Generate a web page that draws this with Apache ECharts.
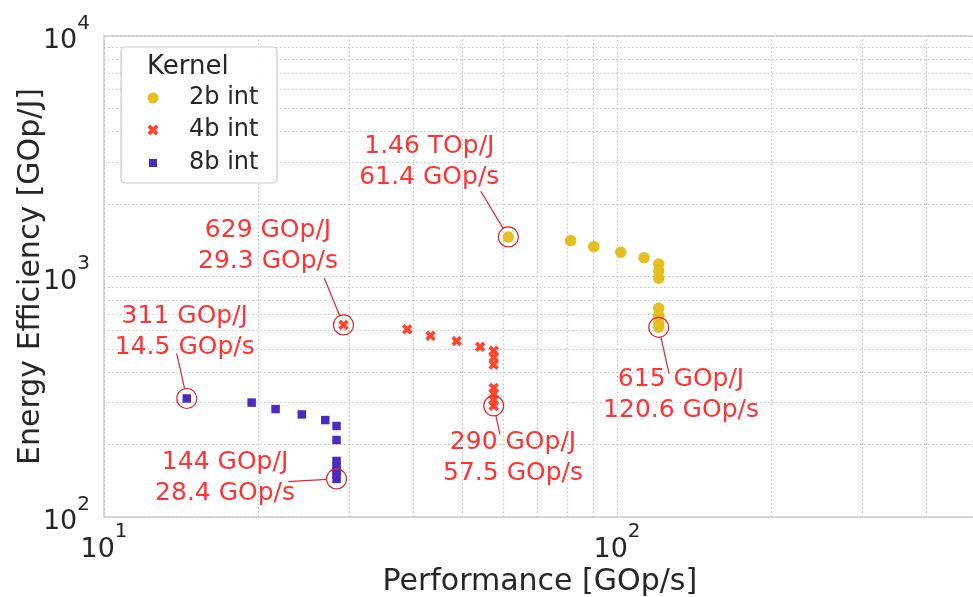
<!DOCTYPE html>
<html>
<head>
<meta charset="utf-8">
<script src="https://cdn.jsdelivr.net/npm/echarts@6/dist/echarts.min.js"></script>
<style>
  html, body { margin: 0; padding: 0; background: #ffffff; }
  #chart { width: 973px; height: 597px; }
</style>
</head>
<body>
<div id="chart"></div>
<script>
// Kernel sweeps: performance [GOp/s] vs energy efficiency [GOp/J]
const perf2b = [61.4, 81.2, 90.1, 101.7, 112.9, 120.6, 120.6, 120.6, 120.6, 120.6, 120.6, 120.6];
const eff2b  = [1460, 1410, 1331, 1261, 1197, 1127, 1057, 983, 738, 688, 641, 615];
const perf4b = [29.3, 39.0, 43.3, 48.7, 54.1, 57.5, 57.5, 57.5, 57.5, 57.5, 57.5, 57.5];
const eff4b  = [629, 603, 567, 539, 510, 491, 461, 430, 344, 325, 307, 290];
const perf8b = [14.5, 19.4, 21.6, 24.3, 27.0, 28.4, 28.4, 28.4, 28.4, 28.4, 28.4, 28.4];
const eff8b  = [311, 299, 281, 267, 253, 239, 209, 171, 163, 155, 150, 144];

// Highlighted operating points
const notePerf = [61.4, 29.3, 14.5, 28.4, 57.5, 120.6];
const noteEff  = [1460, 629, 311, 144, 290, 615];

// Minor grid positions (log axes)
const xMinor = [20, 30, 40, 50, 60, 70, 80, 90, 200, 300, 400];
const yMinor = [200, 300, 400, 500, 600, 700, 800, 900, 2000, 3000, 4000, 5000, 6000, 7000, 8000, 9000];

const kernelNames = ['2b int', '4b int', '8b int'];

// Callout layout relative to each highlighted point (pixels):
// centre of the two-line label, and where its leader line starts
const noteLabelOffsets = [[-79, -75], [-75.5, -79], [-2, -66.5], [-111.5, -1], [19.3, 52.5], [22.3, 68]];
const noteLeaderStarts = [[-27.6, -45.7], [-19.2, -46.7], [-10.1, -45.2], [-48.2, 2.7], [6.3, 28.5], [10.3, 46.4]];

const FONT = 'DejaVu Sans';
const INK = '#262626';
const GRID = '#c4c4c4';
const NOTE_TEXT = '#ff3333';
const NOTE_LINE = '#e3262b';
const COLORS = ['#e5be1f', '#ff4530', '#4b2bc2'];
const X_PATH = 'path://M2,-4L4,-2L2,0L4,2L2,4L0,2L-2,4L-4,2L-2,0L-4,-2L-2,-4L0,-2Z';
const SQ_PATH = 'path://M0,0H1V1H0Z';

const zip = (a, b) => a.map((v, i) => [v, b[i]]);

// "10" with a raised exponent, only on whole decades
function powLabel(v) {
  const l = Math.log10(v);
  const e = Math.round(l);
  if (Math.abs(l - e) > 1e-6) return '';
  return '{b|10}{s|' + e + '}';
}
const powRich = {
  b: { fontFamily: FONT, fontSize: 27, color: INK, lineHeight: 27, verticalAlign: 'top', padding: [14, 0, 0, 0] },
  s: { fontFamily: FONT, fontSize: 20, color: INK, lineHeight: 20, verticalAlign: 'top' }
};

function noteText(perf, eff) {
  const e = eff >= 1000 ? (eff / 1000).toFixed(2) + ' TOp/J' : eff + ' GOp/J';
  return e + '\n' + perf.toFixed(1) + ' GOp/s';
}

const dottedGrid = { color: GRID, width: 1.2, type: [1.5, 2.5] };

const chart = echarts.init(document.getElementById('chart'), null, { renderer: 'canvas' });

const legendBase = {
  orient: 'vertical', padding: 0, selectedMode: false, symbolKeepAspect: true
};
function legendFor(i, icon, size, centerY) {
  return Object.assign({}, legendBase, {
    data: [kernelNames[i]], icon: icon,
    itemWidth: size, itemHeight: size,
    left: 153 - size / 2, top: centerY - 12,
    textStyle: { fontFamily: FONT, fontSize: 24, color: INK, lineHeight: 24, padding: [0, 0, 0, 31 - size / 2] }
  });
}

const option = {
  animation: false,
  backgroundColor: '#ffffff',
  textStyle: { fontFamily: FONT },
  grid: {
    left: 104, top: 36, width: 871.6, height: 481,
    outerBoundsMode: 'none', containLabel: false,
    show: true, borderColor: '#d0d0d0', borderWidth: 1.5, backgroundColor: 'transparent'
  },
  xAxis: {
    type: 'log', logBase: 10, min: 10, max: 500,
    name: 'Performance [GOp/s]', nameLocation: 'middle', nameGap: 50, nameMoveOverlap: false,
    nameTextStyle: { fontFamily: FONT, fontSize: 30, color: INK },
    axisLine: { show: false }, axisTick: { show: false },
    axisLabel: { formatter: powLabel, rich: powRich, margin: 5, showMaxLabel: false, showMinLabel: true },
    splitLine: { show: true, lineStyle: dottedGrid }
  },
  yAxis: {
    type: 'log', logBase: 10, min: 100, max: 10000,
    name: 'Energy Efficiency [GOp/J]', nameLocation: 'middle', nameGap: 58, nameRotate: 90, nameMoveOverlap: false,
    nameTextStyle: { fontFamily: FONT, fontSize: 30, color: INK },
    axisLine: { show: false }, axisTick: { show: false },
    axisLabel: { formatter: powLabel, rich: powRich, margin: 14, padding: [0, 0, 18, 0] },
    splitLine: { show: true, lineStyle: dottedGrid }
  },
  legend: [
    legendFor(0, 'circle', 11, 98),
    legendFor(1, X_PATH, 11, 130),
    legendFor(2, SQ_PATH, 8, 163)
  ],
  graphic: [
    {
      type: 'rect', z: 3, silent: true,
      shape: { x: 121, y: 47, width: 156, height: 136, r: 4 },
      style: { fill: 'rgba(255,255,255,0.85)', stroke: '#cccccc', lineWidth: 1.2 }
    },
    {
      type: 'text', z: 5, silent: true, x: 147, y: 67,
      style: { text: 'Kernel', font: '26px "DejaVu Sans"', fill: INK, verticalAlign: 'middle' }
    }
  ],
  series: [
    {
      // minor grid lines for the log axes
      type: 'scatter', name: 'grid', data: [], z: 0, silent: true,
      markLine: {
        silent: true, symbol: ['none', 'none'], label: { show: false }, z: 0,
        lineStyle: dottedGrid, animation: false,
        data: xMinor.map(v => ({ xAxis: v })).concat(yMinor.map(v => ({ yAxis: v })))
      }
    },
    {
      type: 'scatter', name: kernelNames[0], z: 3,
      data: zip(perf2b, eff2b), symbol: 'circle', symbolSize: 11.5,
      itemStyle: { color: COLORS[0], opacity: 1 }
    },
    {
      type: 'scatter', name: kernelNames[1], z: 3,
      data: zip(perf4b, eff4b), symbol: X_PATH, symbolSize: 10.5,
      itemStyle: { color: COLORS[1], opacity: 1 }
    },
    {
      type: 'scatter', name: kernelNames[2], z: 3,
      data: zip(perf8b, eff8b), symbol: 'rect', symbolSize: 8.5,
      itemStyle: { color: COLORS[2], opacity: 1 }
    },
    {
      // callouts: ring around the point, leader line and two-line label
      type: 'custom', name: 'highlight', z: 6, silent: true,
      data: zip(notePerf, noteEff),
      renderItem: (params, api) => {
        const perf = api.value(0), eff = api.value(1);
        const p = api.coord([perf, eff]);
        const i = params.dataIndex;
        const lo = noteLabelOffsets[i], ls = noteLeaderStarts[i];
        const r = 10;
        const sx = p[0] + ls[0], sy = p[1] + ls[1];
        const dx = p[0] - sx, dy = p[1] - sy, d = Math.hypot(dx, dy);
        return {
          type: 'group',
          children: [
            { type: 'circle', shape: { cx: p[0], cy: p[1], r: r },
              style: { fill: 'none', stroke: NOTE_LINE, lineWidth: 1.2 } },
            { type: 'line', shape: { x1: sx, y1: sy, x2: p[0] - dx / d * r, y2: p[1] - dy / d * r },
              style: { stroke: NOTE_LINE, lineWidth: 1.2 } },
            { type: 'text', x: p[0] + lo[0], y: p[1] + lo[1],
              style: { text: noteText(perf, eff), fontFamily: FONT, fontSize: 25, lineHeight: 31,
                       fill: NOTE_TEXT, align: 'center', verticalAlign: 'middle' } }
          ]
        };
      }
    }
  ]
};

chart.setOption(option);
</script>
</body>
</html>
